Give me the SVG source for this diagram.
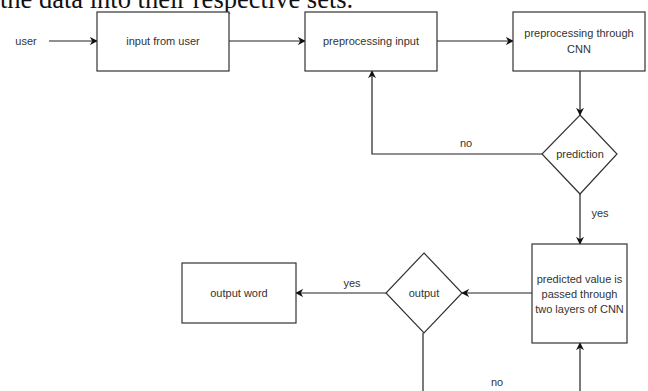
<svg xmlns="http://www.w3.org/2000/svg" width="648" height="391" viewBox="0 0 648 391">
<style>
.box{fill:#fff;stroke:#333;stroke-width:1.2}
.t{font-family:"Liberation Sans",Arial,sans-serif;font-size:11px;fill:#333;text-anchor:middle;dominant-baseline:central}
.c{fill:none;stroke:#222;stroke-width:1.2}
</style>
<defs>
<marker id="ah" viewBox="0 0 10 10" refX="9" refY="5" markerWidth="8" markerHeight="8" markerUnits="userSpaceOnUse" orient="auto">
<path d="M0,0 L10,5 L0,10 L3,5 Z" fill="#111"/>
</marker>
</defs>
<rect width="648" height="391" fill="#fff"/>
<text x="0" y="8" font-family="Liberation Serif,'Times New Roman',serif" font-size="26.5" fill="#111">the data into their respective sets.</text>
<g id="connectors">
<line class="c" x1="49" y1="41" x2="97" y2="41" marker-end="url(#ah)"/>
<line class="c" x1="229" y1="41" x2="305" y2="41" marker-end="url(#ah)"/>
<line class="c" x1="437" y1="41" x2="513" y2="41" marker-end="url(#ah)"/>
<line class="c" x1="580" y1="71" x2="580" y2="115" marker-end="url(#ah)"/>
<polyline class="c" points="542,154 372,154 372,71" marker-end="url(#ah)"/>
<line class="c" x1="580" y1="194" x2="580" y2="244" marker-end="url(#ah)"/>
<line class="c" x1="532" y1="293" x2="462" y2="293" marker-end="url(#ah)"/>
<line class="c" x1="386" y1="293" x2="296" y2="293" marker-end="url(#ah)"/>
<line class="c" x1="423" y1="333" x2="423" y2="391"/>
<line class="c" x1="580" y1="391" x2="580" y2="343" marker-end="url(#ah)"/>
<text class="t" x="466" y="143">no</text>
<text class="t" x="600" y="213">yes</text>
<text class="t" x="352" y="283">yes</text>
<text class="t" x="497" y="382">no</text>
</g>
<g id="user"><text class="t" x="26" y="41" font-size="13.5">user</text></g>
<g id="input"><rect class="box" x="97" y="12" width="132" height="59"/><text class="t" x="163" y="41">input from user</text></g>
<g id="prep"><rect class="box" x="305" y="12" width="132" height="59"/><text class="t" x="371" y="41">preprocessing input</text></g>
<g id="cnn"><rect class="box" x="513" y="12" width="132" height="59"/><text class="t" x="579" y="33">preprocessing through</text><text class="t" x="579" y="49">CNN</text></g>
<g id="prediction"><polygon class="box" points="580,115 617,154 580,194 542,154"/><text class="t" x="580" y="154">prediction</text></g>
<g id="predicted"><rect class="box" x="532" y="244" width="95" height="99"/><text class="t" x="579.5" y="279">predicted value is</text><text class="t" x="579.5" y="294">passed through</text><text class="t" x="579.5" y="309">two layers of CNN</text></g>
<g id="output"><polygon class="box" points="424,253 462,293 424,333 386,293"/><text class="t" x="424" y="293">output</text></g>
<g id="word"><rect class="box" x="182" y="263" width="114" height="60"/><text class="t" x="239" y="293">output word</text></g>
</svg>
